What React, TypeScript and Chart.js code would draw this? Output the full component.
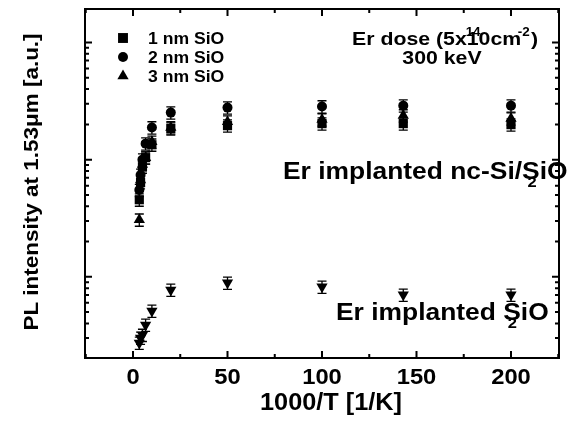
import React, { useEffect, useRef } from 'react';
import { Chart, registerables } from 'chart.js';

Chart.register(...registerables);

// ---- data ----
const invT = [3.33, 4, 5, 6.67, 10, 20, 50, 100, 143, 200];
const sio1nm = [45.5, 64, 87, 104, 134, 184, 195, 203, 203, 199];
const sio2nm = [55, 74, 100, 137, 188, 252, 278, 284, 289, 289];
const sio3nm = [30.7, 67, 91, 104, 142, 188, 211, 220, 238, 224];
const sio2only = [2.73, 3.01, 3.19, 3.89, 5.12, 7.74, 8.89, 8.22, 7.02, 7.02];
const relErr = [0.12, 0.12, 0.12, 0.12, 0.12, 0.12, 0.12, 0.12, 0.12, 0.12];

const legendLabels = ['1 nm SiO', '2 nm SiO', '3 nm SiO'];
const xMajorTicks = [0, 50, 100, 150, 200];
const xMinorTicks = [-25, 25, 75, 125, 175, 225];
const xTickLabels = ['0', '50', '100', '150', '200'];
const yDecades = [1, 10, 100, 1000];
const yMinorFactors = [2, 3, 4, 5, 6, 7, 8, 9];

const X_MIN = -25.4;
const X_MAX = 225.4;
const Y_MIN = 2.03;
const Y_MAX = 1930;

const FONT = '"Liberation Sans", Arial, sans-serif';

type Seg = { t: string; size: number; rise?: number; dx?: number; overlay?: boolean };

function drawRich(ctx: CanvasRenderingContext2D, segs: Seg[], x: number, baseline: number, stretch: number, align: 'left' | 'center' = 'left') {
  ctx.save();
  ctx.textBaseline = 'alphabetic';
  ctx.textAlign = 'left';
  let total = 0;
  for (const s of segs) {
    ctx.font = `bold ${s.size}px ${FONT}`;
    if (!s.overlay) total += ctx.measureText(s.t).width + (s.dx || 0);
  }
  ctx.translate(x, baseline);
  ctx.scale(stretch, 1);
  let pen = align === 'center' ? -total / 2 : 0;
  for (const s of segs) {
    ctx.font = `bold ${s.size}px ${FONT}`;
    const w = ctx.measureText(s.t).width;
    ctx.fillText(s.t, pen + (s.dx || 0), -(s.rise || 0));
    if (!s.overlay) pen += w + (s.dx || 0);
  }
  ctx.restore();
}

function drawMarker(ctx: CanvasRenderingContext2D, style: string, x: number, y: number, r: number) {
  ctx.beginPath();
  if (style === 'rect') {
    const h = r * Math.SQRT1_2;
    ctx.rect(x - h, y - h, 2 * h, 2 * h);
  } else if (style === 'circle') {
    ctx.arc(x, y, r, 0, Math.PI * 2);
  } else {
    ctx.moveTo(x, y - r);
    ctx.lineTo(x + r * 0.866, y + r * 0.5);
    ctx.lineTo(x - r * 0.866, y + r * 0.5);
    ctx.closePath();
  }
  ctx.fill();
}

const decorPlugin = {
  id: 'decor',
  beforeDatasetsDraw(chart: any) {
    const ctx: CanvasRenderingContext2D = chart.ctx;
    const xs = chart.scales.x;
    const ys = chart.scales.y;
    ctx.save();
    ctx.strokeStyle = '#000';
    ctx.lineWidth = 1.3;
    chart.data.datasets.forEach((ds: any) => {
      ds.data.forEach((p: any, i: number) => {
        const e = relErr[i];
        const px = xs.getPixelForValue(p.x);
        const y1 = ys.getPixelForValue(p.y * (1 + e));
        const y2 = ys.getPixelForValue(p.y * (1 - e));
        ctx.beginPath();
        ctx.moveTo(px, y1); ctx.lineTo(px, y2);
        ctx.moveTo(px - 4.5, y1); ctx.lineTo(px + 4.5, y1);
        ctx.moveTo(px - 4.5, y2); ctx.lineTo(px + 4.5, y2);
        ctx.stroke();
      });
    });
    ctx.restore();
  },
  afterDatasetsDraw(chart: any) {
    const ctx: CanvasRenderingContext2D = chart.ctx;
    const { left, right, top, bottom } = chart.chartArea;
    const xs = chart.scales.x;
    const ys = chart.scales.y;
    ctx.save();
    ctx.strokeStyle = '#000';
    ctx.fillStyle = '#000';
    ctx.lineWidth = 2;
    ctx.strokeRect(left, top, right - left, bottom - top);
    const MAJ = 7, MIN = 4;
    ctx.beginPath();
    xMajorTicks.forEach((v) => {
      const px = xs.getPixelForValue(v);
      ctx.moveTo(px, bottom); ctx.lineTo(px, bottom - MAJ);
      ctx.moveTo(px, top); ctx.lineTo(px, top + MAJ);
    });
    xMinorTicks.forEach((v) => {
      if (v <= X_MIN || v >= X_MAX) return;
      const px = xs.getPixelForValue(v);
      ctx.moveTo(px, bottom); ctx.lineTo(px, bottom - MIN);
      ctx.moveTo(px, top); ctx.lineTo(px, top + MIN);
    });
    yDecades.forEach((d) => {
      if (d >= Y_MIN && d <= Y_MAX) {
        const py = ys.getPixelForValue(d);
        ctx.moveTo(left, py); ctx.lineTo(left + MAJ, py);
        ctx.moveTo(right, py); ctx.lineTo(right - MAJ, py);
      }
      yMinorFactors.forEach((f) => {
        const v = d * f;
        if (v <= Y_MIN || v >= Y_MAX) return;
        const py = ys.getPixelForValue(v);
        ctx.moveTo(left, py); ctx.lineTo(left + MIN, py);
        ctx.moveTo(right, py); ctx.lineTo(right - MIN, py);
      });
    });
    ctx.stroke();

    // x tick labels
    xMajorTicks.forEach((v, i) => {
      drawRich(ctx, [{ t: xTickLabels[i], size: 22 }], xs.getPixelForValue(v), 384, 1.08, 'center');
    });
    // x title
    drawRich(ctx, [{ t: '1000/T [1/K]', size: 23 }], 331, 410, 1.1, 'center');
    // y title
    ctx.save();
    ctx.translate(30, 182);
    ctx.rotate(-Math.PI / 2);
    drawRich(ctx, [{ t: 'PL intensity at 1.53\u03bcm [a.u.]', size: 21 }], 0, 7.5, 1.07, 'center');
    ctx.restore();

    // legend
    const legendStyles = ['rect', 'circle', 'triangle'];
    const legendRadius = [7, 5, 6.5];
    legendLabels.forEach((lab, i) => {
      const cy = 38 + i * 19;
      drawMarker(ctx, legendStyles[i], 123, cy, legendRadius[i]);
      drawRich(ctx, [{ t: lab, size: 16 }], 148, cy + 5.7, 1.1);
    });

    // Er dose annotation
    drawRich(ctx, [
      { t: 'Er dose (5x', size: 19 },
      { t: '14', size: 12, rise: 9, dx: -1, overlay: true },
      { t: '10cm', size: 19 },
      { t: '-2', size: 12, rise: 9, dx: -3 },
      { t: ')', size: 19, dx: 1 },
    ], 445, 45, 1.12, 'center');
    drawRich(ctx, [{ t: '300 keV', size: 19 }], 442, 64, 1.12, 'center');

    // curve labels
    drawRich(ctx, [
      { t: 'Er implanted nc-Si/', size: 24 },
      { t: '2', size: 15, rise: -8, dx: 5, overlay: true },
      { t: 'SiO', size: 24 },
    ], 283, 178.5, 1.1);
    drawRich(ctx, [
      { t: 'Er implanted ', size: 24 },
      { t: '2', size: 15, rise: -8, dx: 4, overlay: true },
      { t: 'SiO', size: 24 },
    ], 336, 319.5, 1.1);
    ctx.restore();
  },
};

export default function App() {
  const ref = useRef<HTMLCanvasElement>(null);
  useEffect(() => {
    if (!ref.current) return;
    const mk = (ys: number[]) => invT.map((x, i) => ({ x, y: ys[i] }));
    const chart = new Chart(ref.current, {
      type: 'scatter',
      data: {
        datasets: [
          { label: legendLabels[0], data: mk(sio1nm), pointStyle: 'rect', pointRadius: 6.5, backgroundColor: '#000', borderColor: '#000', borderWidth: 0 },
          { label: legendLabels[1], data: mk(sio2nm), pointStyle: 'circle', pointRadius: 5, backgroundColor: '#000', borderColor: '#000', borderWidth: 0 },
          { label: legendLabels[2], data: mk(sio3nm), pointStyle: 'triangle', pointRadius: 6.5, backgroundColor: '#000', borderColor: '#000', borderWidth: 0 },
          { label: 'Er implanted SiO2', data: mk(sio2only), pointStyle: 'triangle', rotation: 180, pointRadius: 6.5, backgroundColor: '#000', borderColor: '#000', borderWidth: 0 },
        ] as any,
      },
      options: {
        animation: false,
        responsive: true,
        maintainAspectRatio: false,
        layout: { padding: { left: 85, top: 9, right: 18, bottom: 70 } },
        plugins: { legend: { display: false }, tooltip: { enabled: false } },
        scales: {
          x: { type: 'linear', min: X_MIN, max: X_MAX, display: false },
          y: { type: 'logarithmic', min: Y_MIN, max: Y_MAX, display: false },
        },
      },
      plugins: [decorPlugin],
    });
    return () => chart.destroy();
  }, []);
  return (
    <div style={{ position: 'fixed', left: 0, top: 0, width: 577, height: 428, background: '#fff' }}>
      <canvas ref={ref} />
    </div>
  );
}
